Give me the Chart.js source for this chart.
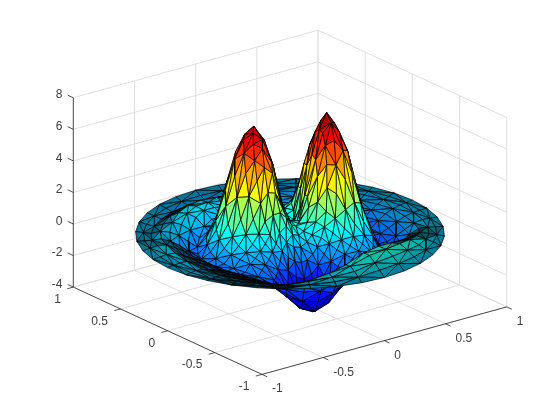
<!DOCTYPE html>
<html>
<head>
<meta charset="utf-8">
<title>Superficie</title>
<script src="https://cdn.jsdelivr.net/npm/chart.js@4"></script>
<style>
html, body { margin: 0; padding: 0; background: #fff; }
canvas { display: block; }
</style>
</head>
<body>
<canvas id="grafico" width="560" height="420"></canvas>
<script>
// Ticks de los ejes
const xTicks = [-1, -0.5, 0, 0.5, 1];
const yTicks = [-1, -0.5, 0, 0.5, 1];
const zTicks = [-4, -2, 0, 2, 4, 6, 8];

// Malla polar: radio de cada anillo. Los vertices de un anillo van repartidos en 360 grados
const radios = [0.06, 0.12, 0.18, 0.24, 0.30, 0.36, 0.42, 0.48, 0.54, 0.60, 0.66, 0.72, 0.78, 0.84, 0.90, 0.95, 1.0];

// Alturas, un anillo por radio
const alturaCentro = 0.84;
const anillo06 = [0.7,0.47,0.57,1.18,1.85,2.04,1.71,1.21,0.78,0.66,0.74,0.8];
const anillo12 = [2.2,1.3,0.48,0.41,1.3,3.05,4.25,4.55,3.98,2.85,1.7,0.9,0.37,0.27,0.45,0.89,1.7,2.28];
const anillo18 = [4.65,3.87,2.32,0.88,0.59,1.35,3.25,4.8,5.7,5.9,5.5,4.45,3.0,1.7,0.64,0.1,-0.2,-0.25,-0.02,0.33,1.01,2.1,3.57,4.47];
const anillo24 = [6.1,5.85,4.98,3.7,2.2,1.1,0.8,1.1,2.0,3.4,4.7,5.65,6.3,6.65,6.35,5.8,4.9,3.75,2.45,1.4,0.66,0.16,-0.28,-0.65,-0.92,-1.01,-0.91,-0.62,-0.24,0.21,0.76,1.6,2.95,4.28,5.35,6.0];
const anillo30 = [7.05,6.45,5.45,4.0,2.35,1.1,0.73,0.83,1.5,2.75,4.08,5.2,5.9,6.1,5.9,5.25,4.15,2.85,1.6,0.77,0.27,-0.19,-0.7,-1.24,-1.7,-1.84,-1.62,-1.13,-0.58,-0.07,0.47,1.2,2.6,4.23,5.6,6.55];
const anillo36 = [6.3,5.9,4.9,3.35,1.7,0.76,0.43,0.45,0.78,1.5,2.7,3.87,4.67,4.95,4.67,3.87,2.7,1.5,0.73,0.27,-0.07,-0.45,-1.04,-1.83,-2.55,-2.8,-2.43,-1.66,-0.9,-0.34,0.1,0.63,1.6,3.3,4.9,5.9];
const anillo42 = [5.0,4.6,3.45,1.8,0.69,0.18,-0.03,-0.03,0.15,0.5,1.1,1.95,2.65,2.95,2.65,1.95,1.1,0.5,0.13,-0.11,-0.31,-0.61,-1.24,-2.17,-3.1,-3.35,-2.95,-1.96,-1.07,-0.52,-0.2,0.15,0.69,1.8,3.45,4.6];
const anillo48 = [2.9,2.45,1.45,0.55,0.0,-0.28,-0.38,-0.39,-0.31,-0.14,0.14,0.49,0.8,0.92,0.8,0.49,0.14,-0.14,-0.31,-0.39,-0.51,-0.74,-1.29,-2.23,-3.05,-3.33,-2.9,-1.95,-1.1,-0.66,-0.46,-0.28,0.0,0.55,1.45,2.45];
const anillo54 = [0.64,0.46,0.04,-0.36,-0.62,-0.74,-0.8,-0.8,-0.76,-0.69,-0.58,-0.43,-0.3,-0.24,-0.3,-0.43,-0.58,-0.69,-0.76,-0.8,-0.84,-0.98,-1.39,-2.1,-2.85,-3.1,-2.7,-1.9,-1.25,-0.94,-0.8,-0.74,-0.62,-0.36,0.04,0.46];
const anillo60 = [-1.0,-1.0,-0.97,-0.94,-0.84,-0.8,-0.7,-0.6,-0.5,-0.38,-0.25,-0.2,-0.33,-0.7,-0.93,-1.0,-0.95,-0.88,-0.8,-0.8,-0.8,-0.89,-1.15,-1.7,-2.2,-2.28,-1.87,-1.37,-1.07,-1.07,-1.2,-1.37,-1.44,-1.44,-1.27,-1.09];
const anillo66 = [-1.07,-1.1,-1.05,-1.0,-0.9,-0.7,-0.6,-0.5,-0.3,-0.1,0.12,0.25,0.17,-0.25,-0.57,-0.8,-0.75,-0.6,-0.55,-0.6,-0.62,-0.7,-0.9,-1.2,-1.4,-1.4,-1.0,-0.57,-0.5,-0.7,-1.0,-1.2,-1.3,-1.35,-1.2,-1.07];
const anillo72 = [-0.7,-0.8,-0.8,-0.8,-0.7,-0.6,-0.45,-0.3,-0.1,0.1,0.3,0.4,0.35,0.05,-0.2,-0.4,-0.35,-0.35,-0.35,-0.42,-0.45,-0.5,-0.65,-0.85,-0.9,-0.6,-0.05,0.3,0.45,0.3,-0.05,-0.4,-0.7,-0.9,-0.9,-0.8];
const anillo78 = [-0.4,-0.5,-0.55,-0.55,-0.5,-0.4,-0.3,-0.15,0.0,0.15,0.3,0.35,0.3,0.15,0.0,-0.1,-0.05,-0.1,-0.15,-0.25,-0.3,-0.35,-0.4,-0.55,-0.45,0.0,0.45,0.95,1.05,0.9,0.65,0.3,-0.1,-0.4,-0.55,-0.5];
const anillo84 = [-0.2,-0.3,-0.35,-0.35,-0.3,-0.25,-0.2,-0.2,-0.15,-0.1,-0.05,0.0,0.0,0.0,0.05,0.08,0.2,0.15,0.05,-0.08,-0.15,-0.2,-0.25,-0.3,-0.1,0.3,0.55,0.95,1.0,0.95,0.75,0.5,0.2,-0.05,-0.2,-0.25];
const anillo90 = [-0.1,-0.15,-0.2,-0.2,-0.2,-0.2,-0.25,-0.3,-0.35,-0.35,-0.3,-0.3,-0.25,-0.2,-0.1,0.02,0.2,0.15,0.08,0.0,-0.08,-0.1,-0.12,-0.15,0.1,0.25,0.4,0.65,0.7,0.65,0.5,0.35,0.15,0.0,-0.05,-0.1];
const anillo95 = [-0.05,-0.08,-0.1,-0.1,-0.1,-0.12,-0.15,-0.18,-0.2,-0.2,-0.18,-0.15,-0.12,-0.1,-0.05,0.0,0.1,0.08,0.04,0.0,-0.04,-0.05,-0.06,-0.08,0.06,0.12,0.2,0.32,0.35,0.32,0.25,0.18,0.08,0.0,-0.02,-0.05];
const anillo100 = [0,0,0,0,0,0,0,0,0,0,0,0,0,0,0,0,0,0,0,0,0,0,0,0,0,0,0,0,0,0,0,0,0,0,0,0];

const anillos = [anillo06, anillo12, anillo18, anillo24, anillo30, anillo36, anillo42, anillo48, anillo54, anillo60, anillo66, anillo72, anillo78, anillo84, anillo90, anillo95, anillo100];

// Limites de color (min y max de la superficie)
const zMin = -3.35;
const zMax = 7.05;

// Proyeccion de la vista 3D al plano del grafico
function proyectar(x, y, z) {
    return {
        x: 290 + 122.35 * x - 94.35 * y,
        y: 297 - 33.75 * x - 43.65 * y - 15.78 * (z + 4)
    };
}

function jet(valor, sombra) {
    const v = Math.min(1, Math.max(0, (valor - zMin) / (zMax - zMin)));
    const canal = c => Math.round((1 - sombra) * 255 * Math.min(1, Math.max(0, 1.5 - Math.abs(4 * v - c))));
    return 'rgb(' + canal(3) + ',' + canal(2) + ',' + canal(1) + ')';
}

// Vertices 3D
function vertice(i, k) {
    const n = anillos[i].length;
    const m = ((k % n) + n) % n;
    const a = 2 * Math.PI * m / n;
    return { x: radios[i] * Math.cos(a), y: radios[i] * Math.sin(a), z: anillos[i][m] };
}
const centro = { x: 0, y: 0, z: alturaCentro };

// Triangulos de la malla, cosiendo anillos vecinos aunque tengan distinto numero de vertices
let triangulos = [];
for (let k = 0; k < anillos[0].length; k++) {
    triangulos.push([centro, vertice(0, k), vertice(0, k + 1)]);
}
for (let i = 0; i < radios.length - 1; i++) {
    const na = anillos[i].length, nb = anillos[i + 1].length;
    let a = 0, b = 0;
    while (a < na || b < nb) {
        const fa = (a + 1) / na, fb = (b + 1) / nb;
        const avanzaA = b >= nb || (a < na && (fa < fb - 1e-9 || (Math.abs(fa - fb) < 1e-9 && (i + a) % 2 === 0)));
        if (avanzaA) {
            triangulos.push([vertice(i, a), vertice(i, a + 1), vertice(i + 1, b)]);
            a++;
        } else {
            triangulos.push([vertice(i, a), vertice(i + 1, b), vertice(i + 1, b + 1)]);
            b++;
        }
    }
}

// Profundidad: el mas cercano primero, porque Chart.js pinta el dataset 0 arriba
function profundidad(t) {
    let s = 0;
    t.forEach(p => { s += 0.866 * (0.609 * p.x + 0.793 * p.y) - 0.5 * p.z / 6; });
    return s / 3;
}
triangulos.sort((a, b) => profundidad(a) - profundidad(b));

// En el original la malla es muy densa en el borde y en los pliegues y casi tapa el color
function sombraDe(t, pts) {
    const plano = Math.abs((t[1].x - t[0].x) * (t[2].y - t[0].y) - (t[2].x - t[0].x) * (t[1].y - t[0].y)) * 8525;
    const visto = Math.abs((pts[1].x - pts[0].x) * (pts[2].y - pts[0].y) - (pts[2].x - pts[0].x) * (pts[1].y - pts[0].y));
    const q = plano > 0 ? visto / plano : 1;
    const r = (Math.hypot(t[0].x, t[0].y) + Math.hypot(t[1].x, t[1].y) + Math.hypot(t[2].x, t[2].y)) / 3;
    const porBorde = Math.max(0, (r - 0.6) / 0.4) * 0.42;
    const porPliegue = Math.max(0, 1 - q) * 0.9;
    return Math.min(0.85, porBorde + porPliegue);
}

const datasets = triangulos.map(t => {
    const media = (t[0].z + t[1].z + t[2].z) / 3;
    const pts = [t[0], t[1], t[2], t[0]].map(p => proyectar(p.x, p.y, p.z));
    return {
        data: pts,
        showLine: true,
        fill: 'shape',
        backgroundColor: jet(media, sombraDe(t, pts)),
        borderColor: '#000',
        borderWidth: 0.7,
        pointRadius: 0,
        tension: 0
    };
});

function linea(a, b, color, ancho) {
    datasets.push({
        data: [proyectar(a[0], a[1], a[2]), proyectar(b[0], b[1], b[2])],
        showLine: true,
        fill: false,
        borderColor: color,
        borderWidth: ancho,
        pointRadius: 0
    });
}

// Ejes y marcas
const colorEje = '#262626';
linea([-1, 1, -4], [-1, 1, 8], colorEje, 0.8);
linea([-1, 1, -4], [-1, -1, -4], colorEje, 0.8);
linea([-1, -1, -4], [1, -1, -4], colorEje, 0.8);
xTicks.forEach(t => linea([t, -1, -4], [t, -1.055, -4], colorEje, 0.8));
yTicks.forEach(t => linea([-1, t, -4], [-1.05, t, -4], colorEje, 0.8));
zTicks.forEach(t => linea([-1, 1, t], [-1, 1.06, t], colorEje, 0.8));

// Rejilla del suelo y de las paredes del fondo
const colorRejilla = '#dfdfdf';
xTicks.forEach(t => {
    linea([t, -1, -4], [t, 1, -4], colorRejilla, 1);
    linea([t, 1, -4], [t, 1, 8], colorRejilla, 1);
});
yTicks.forEach(t => {
    linea([-1, t, -4], [1, t, -4], colorRejilla, 1);
    linea([1, t, -4], [1, t, 8], colorRejilla, 1);
});
zTicks.forEach(t => {
    linea([-1, 1, t], [1, 1, t], colorRejilla, 1);
    linea([1, 1, t], [1, -1, t], colorRejilla, 1);
});

// Etiquetas de los ticks, ancladas a la proyeccion por las escalas del grafico
const etiquetasEjes = {
    id: 'etiquetasEjes',
    afterDraw(chart) {
        const { ctx, scales } = chart;
        ctx.save();
        ctx.font = '12px "Liberation Sans", Arial, sans-serif';
        ctx.fillStyle = '#404040';
        ctx.textBaseline = 'middle';
        const poner = (texto, p, dx, dy, alin) => {
            ctx.textAlign = alin;
            ctx.fillText(texto, scales.x.getPixelForValue(p.x) + dx, scales.y.getPixelForValue(p.y) + dy);
        };
        xTicks.forEach(t => poner(String(t), proyectar(t, -1, -4), 10, 14.7, 'left'));
        yTicks.forEach(t => poner(String(t), proyectar(-1, t, -4), -12.5, 12.5, 'right'));
        zTicks.forEach(t => poner(String(t), proyectar(-1, 1, t), -11, -2.6, 'right'));
        ctx.restore();
    }
};

new Chart(document.getElementById('grafico').getContext('2d'), {
    type: 'scatter',
    data: { datasets: datasets },
    options: {
        responsive: false,
        animation: false,
        layout: { padding: 0 },
        plugins: { legend: { display: false }, tooltip: { enabled: false } },
        scales: {
            x: { type: 'linear', min: 0, max: 560, display: false },
            y: { type: 'linear', min: 0, max: 420, reverse: true, display: false }
        }
    },
    plugins: [etiquetasEjes]
});
</script>
</body>
</html>
